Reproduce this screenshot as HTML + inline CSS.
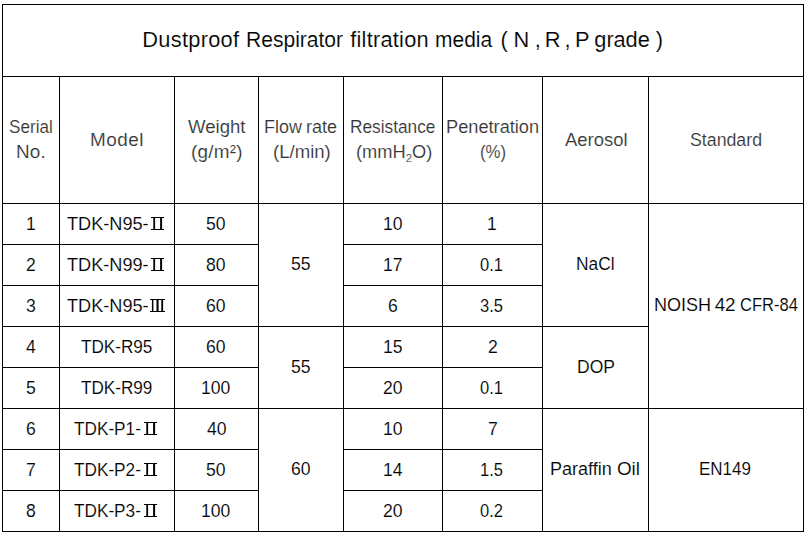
<!DOCTYPE html>
<html><head><meta charset="utf-8"><title>Dustproof Respirator filtration media</title>
<style>
html,body{margin:0;padding:0;background:#fff}
body{width:809px;height:537px;position:relative;overflow:hidden;font-family:"Liberation Sans",sans-serif}
.l{position:absolute;background:#000}
.t{position:absolute;white-space:nowrap;margin:0;line-height:24px;transform-origin:0 0;-webkit-text-stroke:0.14px #fff}
.t sub{font-size:62%;vertical-align:baseline;position:relative;top:0.3em;line-height:0}
.rn{position:absolute;fill:#000}
</style></head><body>
<div class="l" style="left:2px;top:4px;width:802px;height:1px"></div>
<div class="l" style="left:2px;top:76px;width:802px;height:1px"></div>
<div class="l" style="left:2px;top:203px;width:802px;height:1px"></div>
<div class="l" style="left:2px;top:531px;width:802px;height:1px"></div>
<div class="l" style="left:2px;top:4px;width:1px;height:528px"></div>
<div class="l" style="left:803px;top:4px;width:1px;height:528px"></div>
<div class="l" style="left:59px;top:76px;width:1px;height:456px"></div>
<div class="l" style="left:174px;top:76px;width:1px;height:456px"></div>
<div class="l" style="left:258px;top:76px;width:1px;height:456px"></div>
<div class="l" style="left:343px;top:76px;width:1px;height:456px"></div>
<div class="l" style="left:442px;top:76px;width:1px;height:456px"></div>
<div class="l" style="left:542px;top:76px;width:1px;height:456px"></div>
<div class="l" style="left:648px;top:76px;width:1px;height:456px"></div>
<div class="l" style="left:2px;top:244px;width:257px;height:1px"></div>
<div class="l" style="left:343px;top:244px;width:200px;height:1px"></div>
<div class="l" style="left:2px;top:285px;width:257px;height:1px"></div>
<div class="l" style="left:343px;top:285px;width:200px;height:1px"></div>
<div class="l" style="left:2px;top:326px;width:257px;height:1px"></div>
<div class="l" style="left:258px;top:326px;width:86px;height:1px"></div>
<div class="l" style="left:343px;top:326px;width:200px;height:1px"></div>
<div class="l" style="left:542px;top:326px;width:107px;height:1px"></div>
<div class="l" style="left:2px;top:367px;width:257px;height:1px"></div>
<div class="l" style="left:343px;top:367px;width:200px;height:1px"></div>
<div class="l" style="left:2px;top:408px;width:257px;height:1px"></div>
<div class="l" style="left:258px;top:408px;width:86px;height:1px"></div>
<div class="l" style="left:343px;top:408px;width:200px;height:1px"></div>
<div class="l" style="left:542px;top:408px;width:107px;height:1px"></div>
<div class="l" style="left:648px;top:408px;width:156px;height:1px"></div>
<div class="l" style="left:2px;top:449px;width:257px;height:1px"></div>
<div class="l" style="left:343px;top:449px;width:200px;height:1px"></div>
<div class="l" style="left:2px;top:490px;width:257px;height:1px"></div>
<div class="l" style="left:343px;top:490px;width:200px;height:1px"></div>
<div class="t" style="left:142.25px;top:28px;font-size:21.8px;color:#000;letter-spacing:0.29px">Dustproof</div>
<div class="t" style="left:245.71px;top:28px;font-size:21.8px;color:#000;transform:scaleX(0.9655)">Respirator</div>
<div class="t" style="left:350.25px;top:28px;font-size:21.8px;color:#000;letter-spacing:0.23px">filtration</div>
<div class="t" style="left:435.26px;top:28px;font-size:21.8px;color:#000;transform:scaleX(0.9621)">media</div>
<div class="t" style="left:500.62px;top:28px;font-size:21.8px;color:#000">(</div>
<div class="t" style="left:513.52px;top:28px;font-size:21.8px;color:#000">N</div>
<div class="t" style="left:534.83px;top:28px;font-size:21.8px;color:#000">,</div>
<div class="t" style="left:544.85px;top:28px;font-size:21.8px;color:#000">R</div>
<div class="t" style="left:564.58px;top:28px;font-size:21.8px;color:#000">,</div>
<div class="t" style="left:575.12px;top:28px;font-size:21.8px;color:#000">P</div>
<div class="t" style="left:594.35px;top:28px;font-size:21.8px;color:#000;letter-spacing:-0.08px">grade</div>
<div class="t" style="left:655.78px;top:28px;font-size:21.8px;color:#000">)</div>
<div class="t" style="left:8.52px;top:115px;font-size:18.9px;color:#353535;transform:scaleX(0.9059)">Serial</div>
<div class="t" style="left:16.0px;top:140px;font-size:18.9px;color:#353535;letter-spacing:0.12px">No.</div>
<div class="t" style="left:90.0px;top:128px;font-size:18.9px;color:#353535;letter-spacing:0.49px">Model</div>
<div class="t" style="left:187.9px;top:115px;font-size:18.9px;color:#353535;transform:scaleX(0.9837)">Weight</div>
<div class="t" style="left:190.9px;top:140px;font-size:18.9px;color:#353535;letter-spacing:0.25px">(g/m²)</div>
<div class="t" style="left:264.18px;top:115px;font-size:18.9px;color:#353535;transform:scaleX(0.9481)">Flow</div>
<div class="t" style="left:306.4px;top:115px;font-size:18.9px;color:#353535;transform:scaleX(0.9574)">rate</div>
<div class="t" style="left:272.52px;top:140px;font-size:18.9px;color:#353535;transform:scaleX(0.9833)">(L/min)</div>
<div class="t" style="left:350.03px;top:115px;font-size:18.9px;color:#353535;transform:scaleX(0.914)">Resistance</div>
<div class="t" style="left:355.63px;top:140px;font-size:18.9px;color:#353535;transform:scaleX(0.9681)">(mmH<sub>2</sub>O)</div>
<div class="t" style="left:446.05px;top:115px;font-size:18.9px;color:#353535;transform:scaleX(0.9638)">Penetration</div>
<div class="t" style="left:479.81px;top:140px;font-size:18.9px;color:#353535;transform:scaleX(0.8881)">(%)</div>
<div class="t" style="left:564.8px;top:128px;font-size:18.9px;color:#353535;transform:scaleX(0.9753)">Aerosol</div>
<div class="t" style="left:690.1px;top:128px;font-size:18.9px;color:#353535;transform:scaleX(0.9391)">Standard</div>
<div class="t" style="left:66.66px;top:212px;font-size:18.9px;color:#000;transform:scaleX(0.9595)">TDK-N95-</div>
<div class="t" style="left:66.66px;top:253px;font-size:18.9px;color:#000;transform:scaleX(0.9595)">TDK-N99-</div>
<div class="t" style="left:66.66px;top:294px;font-size:18.9px;color:#000;transform:scaleX(0.9595)">TDK-N95-</div>
<div class="t" style="left:81.17px;top:335px;font-size:18.9px;color:#000;transform:scaleX(0.9068)">TDK-R95</div>
<div class="t" style="left:81.17px;top:376px;font-size:18.9px;color:#000;transform:scaleX(0.9068)">TDK-R99</div>
<div class="t" style="left:74.47px;top:417px;font-size:18.9px;color:#000;transform:scaleX(0.9103)">TDK-P1-</div>
<div class="t" style="left:74.47px;top:458px;font-size:18.9px;color:#000;transform:scaleX(0.9103)">TDK-P2-</div>
<div class="t" style="left:74.47px;top:499px;font-size:18.9px;color:#000;transform:scaleX(0.9103)">TDK-P3-</div>
<div class="t" style="left:576.12px;top:252px;font-size:18.9px;color:#000;transform:scaleX(0.9172)">NaCl</div>
<div class="t" style="left:576.71px;top:355px;font-size:18.9px;color:#000;transform:scaleX(0.9273)">DOP</div>
<div class="t" style="left:549.77px;top:457px;font-size:18.9px;color:#000;transform:scaleX(0.9532)">Paraffin</div>
<div class="t" style="left:616.95px;top:457px;font-size:18.9px;color:#000;letter-spacing:-0.1px">Oil</div>
<div class="t" style="left:653.57px;top:293px;font-size:18.9px;color:#000;transform:scaleX(0.9533)">NOISH</div>
<div class="t" style="left:714.65px;top:293px;font-size:18.9px;color:#000;letter-spacing:-0.25px">42</div>
<div class="t" style="left:739.92px;top:293px;font-size:18.9px;color:#000;transform:scaleX(0.8757)">CFR-84</div>
<div class="t" style="left:699.45px;top:457px;font-size:18.9px;color:#000;transform:scaleX(0.8991)">EN149</div>
<div class="t" style="left:25.57px;top:212px;font-size:18.9px;color:#000;transform:scaleX(0.93)">1</div>
<div class="t" style="left:25.92px;top:253px;font-size:18.9px;color:#000;transform:scaleX(0.93)">2</div>
<div class="t" style="left:25.92px;top:294px;font-size:18.9px;color:#000;transform:scaleX(0.93)">3</div>
<div class="t" style="left:26.03px;top:335px;font-size:18.9px;color:#000;transform:scaleX(0.93)">4</div>
<div class="t" style="left:25.92px;top:376px;font-size:18.9px;color:#000;transform:scaleX(0.93)">5</div>
<div class="t" style="left:25.8px;top:417px;font-size:18.9px;color:#000;transform:scaleX(0.93)">6</div>
<div class="t" style="left:25.92px;top:458px;font-size:18.9px;color:#000;transform:scaleX(0.93)">7</div>
<div class="t" style="left:25.92px;top:499px;font-size:18.9px;color:#000;transform:scaleX(0.93)">8</div>
<div class="t" style="left:206.44px;top:212px;font-size:18.9px;color:#000;transform:scaleX(0.93)">50</div>
<div class="t" style="left:206.44px;top:253px;font-size:18.9px;color:#000;transform:scaleX(0.93)">80</div>
<div class="t" style="left:206.32px;top:294px;font-size:18.9px;color:#000;transform:scaleX(0.93)">60</div>
<div class="t" style="left:206.32px;top:335px;font-size:18.9px;color:#000;transform:scaleX(0.93)">60</div>
<div class="t" style="left:201.2px;top:376px;font-size:18.9px;color:#000;transform:scaleX(0.93)">100</div>
<div class="t" style="left:206.67px;top:417px;font-size:18.9px;color:#000;transform:scaleX(0.93)">40</div>
<div class="t" style="left:206.44px;top:458px;font-size:18.9px;color:#000;transform:scaleX(0.93)">50</div>
<div class="t" style="left:201.2px;top:499px;font-size:18.9px;color:#000;transform:scaleX(0.93)">100</div>
<div class="t" style="left:382.79px;top:212px;font-size:18.9px;color:#000;transform:scaleX(0.93)">10</div>
<div class="t" style="left:382.9px;top:253px;font-size:18.9px;color:#000;transform:scaleX(0.93)">17</div>
<div class="t" style="left:387.9px;top:294px;font-size:18.9px;color:#000;transform:scaleX(0.93)">6</div>
<div class="t" style="left:382.79px;top:335px;font-size:18.9px;color:#000;transform:scaleX(0.93)">15</div>
<div class="t" style="left:383.02px;top:376px;font-size:18.9px;color:#000;transform:scaleX(0.93)">20</div>
<div class="t" style="left:382.79px;top:417px;font-size:18.9px;color:#000;transform:scaleX(0.93)">10</div>
<div class="t" style="left:382.67px;top:458px;font-size:18.9px;color:#000;transform:scaleX(0.93)">14</div>
<div class="t" style="left:383.02px;top:499px;font-size:18.9px;color:#000;transform:scaleX(0.93)">20</div>
<div class="t" style="left:487.17px;top:212px;font-size:18.9px;color:#000;transform:scaleX(0.93)">1</div>
<div class="t" style="left:480.12px;top:253px;font-size:18.9px;color:#000;transform:scaleX(0.875)">0.1</div>
<div class="t" style="left:480.12px;top:294px;font-size:18.9px;color:#000;transform:scaleX(0.875)">3.5</div>
<div class="t" style="left:487.52px;top:335px;font-size:18.9px;color:#000;transform:scaleX(0.93)">2</div>
<div class="t" style="left:480.12px;top:376px;font-size:18.9px;color:#000;transform:scaleX(0.875)">0.1</div>
<div class="t" style="left:487.52px;top:417px;font-size:18.9px;color:#000;transform:scaleX(0.93)">7</div>
<div class="t" style="left:479.79px;top:458px;font-size:18.9px;color:#000;transform:scaleX(0.875)">1.5</div>
<div class="t" style="left:480.22px;top:499px;font-size:18.9px;color:#000;transform:scaleX(0.875)">0.2</div>
<div class="t" style="left:291.34px;top:252px;font-size:18.9px;color:#000;transform:scaleX(0.93)">55</div>
<div class="t" style="left:291.34px;top:355px;font-size:18.9px;color:#000;transform:scaleX(0.93)">55</div>
<div class="t" style="left:291.22px;top:457px;font-size:18.9px;color:#000;transform:scaleX(0.93)">60</div>
<svg class="rn" style="left:151px;top:217px" width="13" height="13" viewBox="0 0 13 13"><rect x="0" y="0" width="13" height="1"/><rect x="0" y="12" width="13" height="1"/><rect x="2.3" y="0" width="1.8" height="13"/><rect x="9.1" y="0" width="2.0" height="13"/></svg>
<svg class="rn" style="left:151px;top:258px" width="13" height="13" viewBox="0 0 13 13"><rect x="0" y="0" width="13" height="1"/><rect x="0" y="12" width="13" height="1"/><rect x="2.3" y="0" width="1.8" height="13"/><rect x="9.1" y="0" width="2.0" height="13"/></svg>
<svg class="rn" style="left:150px;top:299px" width="15" height="13" viewBox="0 0 15 13"><rect x="0" y="0" width="15" height="1"/><rect x="0" y="12" width="15" height="1"/><rect x="1.9" y="0" width="1.5" height="13"/><rect x="6.5" y="0" width="2.1" height="13"/><rect x="11.3" y="0" width="1.8" height="13"/></svg>
<svg class="rn" style="left:144px;top:422px" width="13" height="13" viewBox="0 0 13 13"><rect x="0" y="0" width="13" height="1"/><rect x="0" y="12" width="13" height="1"/><rect x="2.3" y="0" width="1.8" height="13"/><rect x="9.1" y="0" width="2.0" height="13"/></svg>
<svg class="rn" style="left:144px;top:463px" width="13" height="13" viewBox="0 0 13 13"><rect x="0" y="0" width="13" height="1"/><rect x="0" y="12" width="13" height="1"/><rect x="2.3" y="0" width="1.8" height="13"/><rect x="9.1" y="0" width="2.0" height="13"/></svg>
<svg class="rn" style="left:144px;top:504px" width="13" height="13" viewBox="0 0 13 13"><rect x="0" y="0" width="13" height="1"/><rect x="0" y="12" width="13" height="1"/><rect x="2.3" y="0" width="1.8" height="13"/><rect x="9.1" y="0" width="2.0" height="13"/></svg>
</body></html>
